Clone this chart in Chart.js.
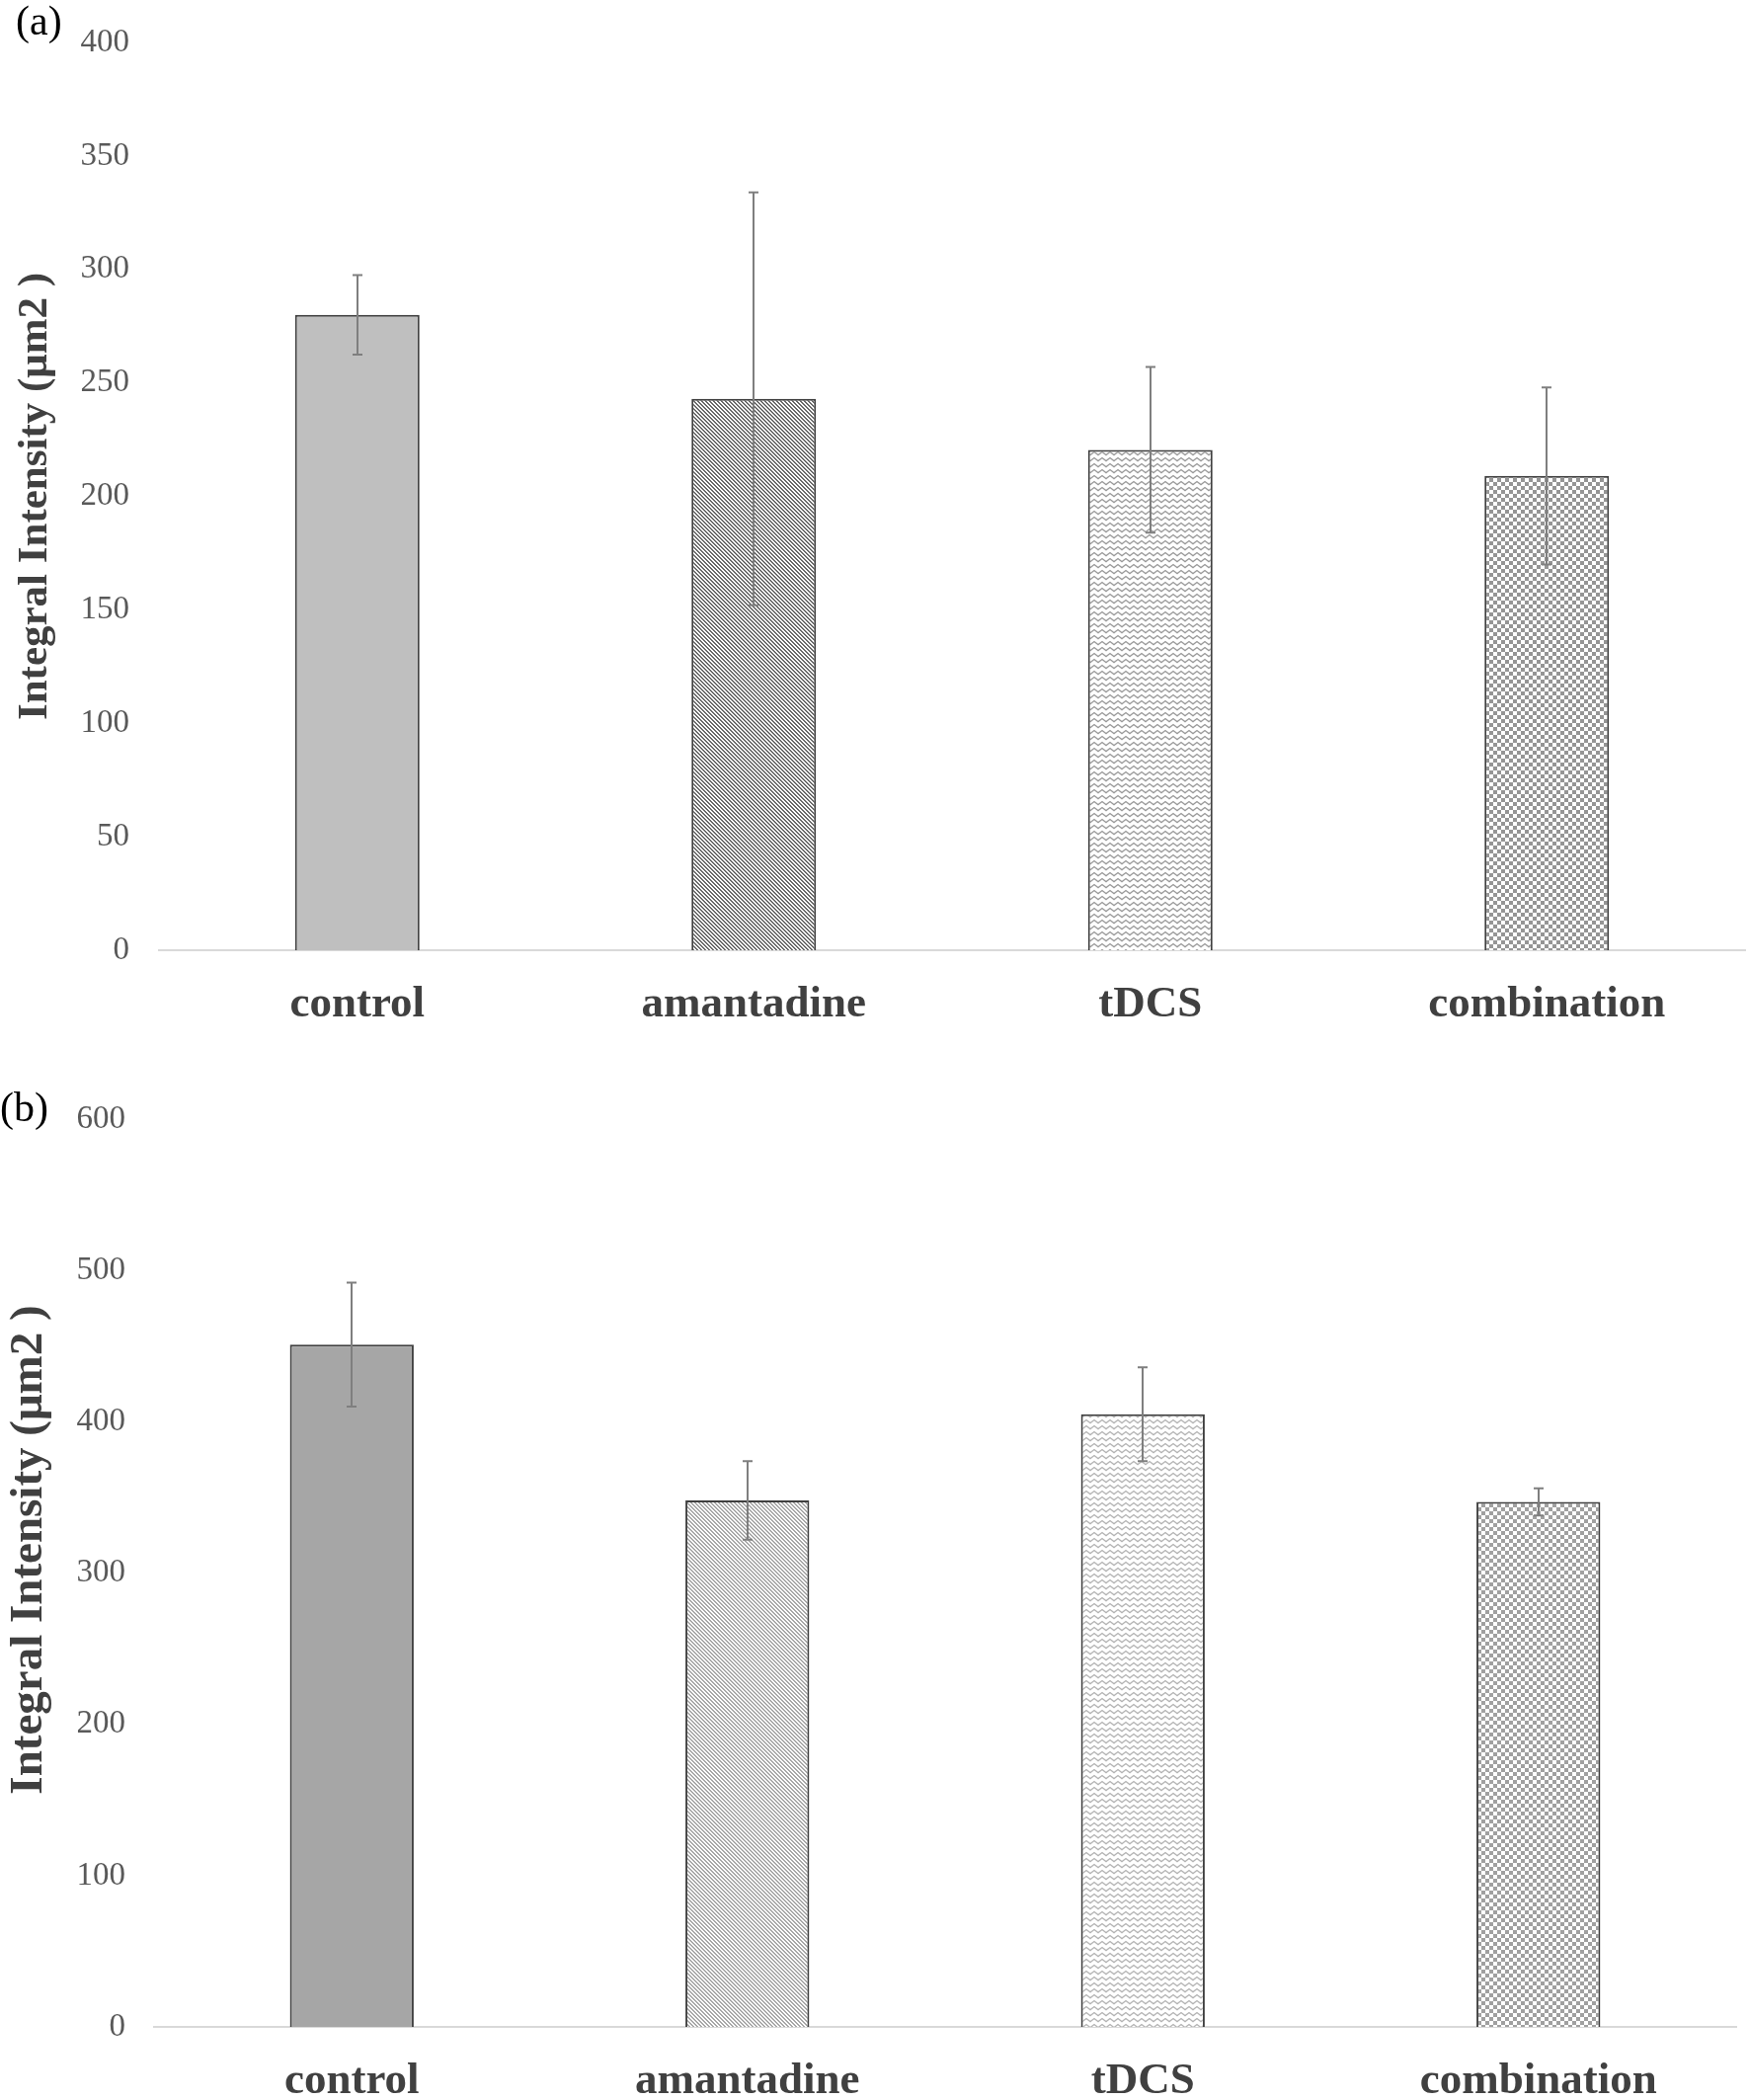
<!DOCTYPE html>
<html>
<head>
<meta charset="utf-8">
<script src="https://cdn.jsdelivr.net/npm/chart.js@4/dist/chart.umd.min.js"></script>
<style>
  html, body { margin: 0; padding: 0; background: #ffffff; }
  body { width: 1770px; height: 2126px; position: relative; overflow: hidden; }
  .panel { position: absolute; left: 0; width: 1770px; }
  .tag { position: absolute; font-family: 'Liberation Serif', 'Times New Roman', serif; font-size: 42px; line-height: 1; color: #000; }
</style>
</head>
<body>
<div class="panel" style="top:0;height:1070px;"><canvas id="chartA" width="1770" height="1070"></canvas></div>
<div class="panel" style="top:1070px;height:1056px;"><canvas id="chartB" width="1770" height="1056"></canvas></div>
<div class="tag" style="left:16px;top:0px;">(a)</div>
<div class="tag" style="left:0px;top:1100px;">(b)</div>
<script>
// ---- data ----
const categories = ['control', 'amantadine', 'tDCS', 'combination'];
const meansA = [280, 243, 220.5, 209];
const errorsA = [17.5, 91, 36.5, 39];
const meansB = [451, 348, 405, 347];
const errorsB = [41, 26, 31, 9];
const yMaxA = 400, yStepA = 50;
const yMaxB = 600, yStepB = 100;
const yTitle = 'Integral Intensity (μm2 )';

// ---- patterns (style only) ----
function tile(w, h, draw) {
  const c = document.createElement('canvas');
  c.width = w; c.height = h;
  const g = c.getContext('2d');
  g.fillStyle = '#ffffff'; g.fillRect(0, 0, w, h);
  draw(g);
  return document.createElement('canvas').getContext('2d').createPattern(c, 'repeat');
}
function diag(color) {
  return tile(4, 4, g => {
    g.fillStyle = color;
    for (let y = 0; y < 4; y++) for (let x = 0; x < 4; x++) {
      const d = ((x - y) % 4 + 4) % 4;
      if (d === 0 || d === 1) g.fillRect(x, y, 1, 1);
    }
  });
}
function wave(color) {
  return tile(8, 6, g => {
    g.strokeStyle = color; g.lineWidth = 1.4;
    g.beginPath();
    g.moveTo(-4, 1.5); g.lineTo(0, 4.5); g.lineTo(4, 1.5); g.lineTo(8, 4.5); g.lineTo(12, 1.5);
    g.stroke();
  });
}
function checker(color) {
  return tile(8, 8, g => {
    g.fillStyle = color;
    g.fillRect(0, 0, 4, 4); g.fillRect(4, 4, 4, 4);
  });
}

const fillsA = ['#bfbfbf', diag('#6a6a6a'), wave('#9a9a9a'), checker('#959595')];
const fillsB = ['#a6a6a6', diag('#a8a8a8'), wave('#b4b4b4'), checker('#a0a0a0')];

const serif = "'Liberation Serif', 'Times New Roman', serif";

const errorBarPlugin = {
  id: 'errorBars',
  afterDatasetsDraw(chart, args, opts) {
    const ctx = chart.ctx;
    const y = chart.scales.y;
    const meta = chart.getDatasetMeta(0);
    const vals = chart.data.datasets[0].data;
    ctx.save();
    ctx.strokeStyle = opts.color;
    ctx.lineWidth = opts.width;
    meta.data.forEach((bar, i) => {
      const e = opts.errors[i];
      const yt = y.getPixelForValue(vals[i] + e);
      const yb = y.getPixelForValue(vals[i] - e);
      const x = Math.round(bar.x);
      ctx.beginPath();
      ctx.moveTo(x, yt); ctx.lineTo(x, yb);
      ctx.moveTo(x - opts.cap, yt); ctx.lineTo(x + opts.cap, yt);
      ctx.moveTo(x - opts.cap, yb); ctx.lineTo(x + opts.cap, yb);
      ctx.stroke();
    });
    ctx.restore();
  }
};

function makeChart(id, means, errors, fills, yMax, yStep, cfg) {
  return new Chart(document.getElementById(id), {
    type: 'bar',
    data: {
      labels: categories,
      datasets: [{
        data: means,
        backgroundColor: fills,
        borderColor: '#404040',
        borderWidth: 2,
        borderSkipped: 'start',
        categoryPercentage: 1,
        barPercentage: cfg.barPct
      }]
    },
    options: {
      responsive: false,
      animation: false,
      devicePixelRatio: 1,
      layout: { padding: { top: cfg.top, right: cfg.right, left: 0, bottom: 0 } },
      plugins: {
        legend: { display: false },
        tooltip: { enabled: false },
        errorBars: { errors: errors, color: '#7f7f7f', width: 2, cap: 5 }
      },
      scales: {
        x: {
          grid: { display: false, drawTicks: false },
          border: { display: true, color: '#d9d9d9', width: 2 },
          ticks: {
            color: '#404040', padding: cfg.xPad,
            font: { family: serif, size: 45, weight: 'bold' },
            maxRotation: 0, autoSkip: false
          },
          afterFit(scale) { scale.height = cfg.xHeight; }
        },
        y: {
          min: 0, max: yMax,
          grid: { display: false, drawTicks: true, tickLength: cfg.yGap, tickColor: 'rgba(0,0,0,0)' },
          border: { display: false },
          ticks: {
            stepSize: yStep, color: '#595959', padding: 0,
            font: { family: serif, size: 33 }
          },
          title: {
            display: true, text: cfg.titleLead + yTitle, color: '#404040',
            font: { family: serif, size: cfg.titleSize, weight: 'bold' },
            padding: { top: cfg.titlePad, bottom: 0 }
          },
          afterFit(scale) { scale.width = cfg.yWidth; }
        }
      }
    },
    plugins: [errorBarPlugin]
  });
}

makeChart('chartA', meansA, errorsA, fillsA, yMaxA, yStepA, {
  barPct: 0.314, top: 43, right: 3, xHeight: 108, xPad: 28, yGap: 30, yWidth: 161, titleSize: 43, titlePad: 10, titleLead: ''
});
makeChart('chartB', meansB, errorsB, fillsB, yMaxB, yStepB, {
  barPct: 0.313, top: 63, right: 12, xHeight: 74, xPad: 28, yGap: 29, yWidth: 156, titleSize: 47, titlePad: 2, titleLead: '    '
});
</script>
</body>
</html>
